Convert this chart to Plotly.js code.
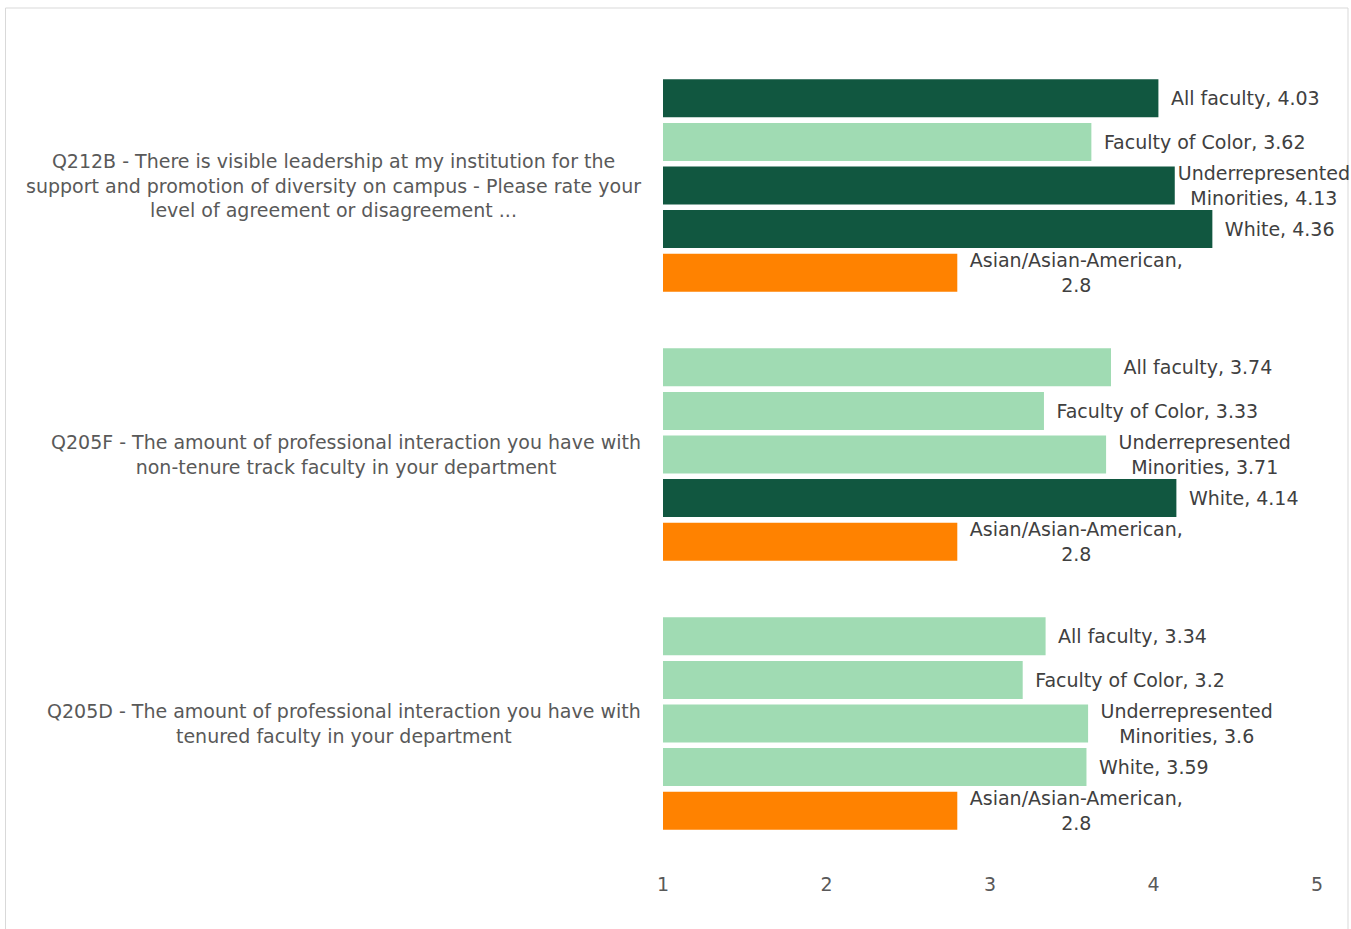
<!DOCTYPE html>
<html>
<head>
<meta charset="utf-8">
<script src="https://cdn.plot.ly/plotly-3.0.1.min.js"></script>
<style>
  html, body { margin: 0; padding: 0; background: #ffffff; }
  #chart { width: 1351px; height: 929px; }
</style>
</head>
<body>
<div id="chart"></div>
<script>
// ---- data ----
const questions = [
  "Q212B - There is visible leadership at my institution for the<br>support and promotion of diversity on campus - Please rate your<br>level of agreement or disagreement ...",
  "Q205F - The amount of professional interaction you have with<br>non-tenure track faculty in your department",
  "Q205D - The amount of professional interaction you have with<br>tenured faculty in your department"
];
const seriesNames = ["All faculty", "Faculty of Color", "Underrepresented Minorities", "White", "Asian/Asian-American"];
const labelLines = [
  "All faculty, %{x}",
  "Faculty of Color, %{x}",
  "Underrepresented<br>Minorities, %{x}",
  "White, %{x}",
  "Asian/Asian-American,<br>%{x}"
];
const allFaculty      = [4.03, 3.74, 3.34];
const facultyOfColor  = [3.62, 3.33, 3.2];
const underrepMinor   = [4.13, 3.71, 3.6];
const white           = [4.36, 4.14, 3.59];
const asianAmerican   = [2.8, 2.8, 2.8];
const xTicks = [1, 2, 3, 4, 5];

// ---- style ----
const DARK = "#115740", LIGHT = "#A0DBB3", ORANGE = "#FF8200";
const barColors = [
  [DARK, LIGHT, LIGHT],
  [LIGHT, LIGHT, LIGHT],
  [DARK, LIGHT, LIGHT],
  [DARK, DARK, LIGHT],
  [ORANGE, ORANGE, ORANGE]
];
const seriesValues = [allFaculty, facultyOfColor, underrepMinor, white, asianAmerican];
const FONT = "DejaVu Sans, Liberation Sans, Arial, sans-serif";
const PAD = "\u2002";

function templatesFor(i, n) {
  const out = [];
  for (let k = 0; k < n; k++) {
    const pad = (i === 2 && k === 0) ? "" : PAD;
    out.push(labelLines[i].split("<br>").map(s => pad + s).join("<br>"));
  }
  return out;
}

const traces = seriesValues.map((vals, i) => ({
  type: "bar",
  orientation: "h",
  name: seriesNames[i],
  x: vals,
  y: questions,
  marker: { color: barColors[i], line: { width: 0 } },
  texttemplate: templatesFor(i, vals.length),
  textposition: "outside",
  constraintext: "none",
  cliponaxis: false,
  textfont: { family: FONT, size: 19, color: "#404040" },
  hoverinfo: "skip"
}));

const plotLeft = 663, plotRight = 1317, plotTop = 51, plotBottom = 858;
const pw = plotRight - plotLeft, ph = plotBottom - plotTop;

const annotations = questions.map(q => ({
  xref: "paper", yref: "y",
  x: (643 - plotLeft) / pw, y: q,
  xanchor: "right", yanchor: "middle",
  align: "center",
  text: q,
  showarrow: false,
  font: { family: FONT, size: 19, color: "#595959" }
}));

const layout = {
  width: 1351, height: 929,
  margin: { l: plotLeft, r: 1351 - plotRight, t: plotTop, b: 929 - plotBottom, pad: 0 },
  paper_bgcolor: "#ffffff",
  plot_bgcolor: "#ffffff",
  showlegend: false,
  barmode: "group",
  bargap: 0.19,
  bargroupgap: 0.127,
  font: { family: FONT, size: 19, color: "#595959" },
  xaxis: {
    range: [1, 5],
    tickvals: xTicks,
    ticktext: xTicks.map(String),
    showgrid: false, zeroline: false, showline: false,
    ticks: "",
    ticklabelstandoff: 13,
    tickfont: { family: FONT, size: 19, color: "#595959" },
    fixedrange: true
  },
  yaxis: {
    type: "category",
    categoryorder: "array",
    categoryarray: questions,
    autorange: "reversed",
    showticklabels: false,
    showgrid: false, zeroline: false, showline: false,
    ticks: "",
    fixedrange: true
  },
  annotations: annotations,
  shapes: [{
    type: "rect", xref: "paper", yref: "paper", layer: "below",
    x0: (5.5 - plotLeft) / pw, x1: (1348 - plotLeft) / pw,
    y0: 1 + (plotTop - 8) / ph, y1: -0.3,
    line: { color: "#D9D9D9", width: 1 },
    fillcolor: "rgba(0,0,0,0)"
  }]
};

Plotly.newPlot("chart", traces, layout, { displayModeBar: false, staticPlot: true });
</script>
</body>
</html>
